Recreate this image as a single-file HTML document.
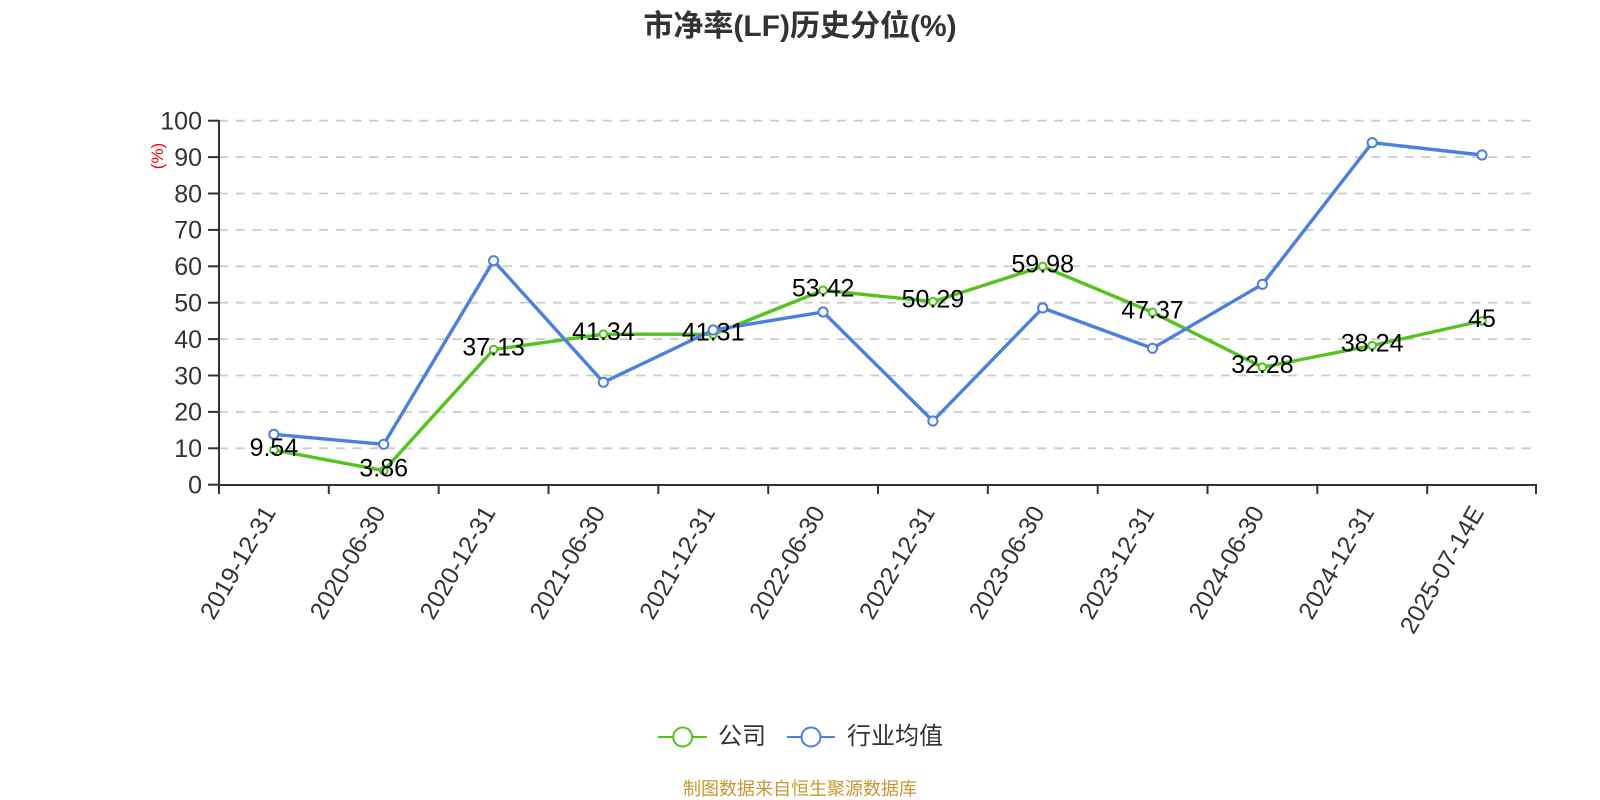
<!DOCTYPE html>
<html>
<head>
<meta charset="utf-8">
<style>
html,body{margin:0;padding:0;background:#fff;}
svg{display:block;}
text{font-family:"Liberation Sans","Noto Sans CJK SC",sans-serif;}
</style>
</head>
<body>
<svg width="1600" height="800" viewBox="0 0 1600 800" xmlns="http://www.w3.org/2000/svg">
<rect width="1600" height="800" fill="#fff"/>
<!-- title -->
<text x="800" y="36" text-anchor="middle" font-size="30" font-weight="bold" fill="#333">市净率(LF)历史分位(%)</text>

<!-- grid lines -->
<g stroke="#cccccc" stroke-width="1.8" stroke-dasharray="9 7.7" fill="none">
<line x1="219" y1="120.7" x2="1537" y2="120.7"/>
<line x1="219" y1="157.1" x2="1537" y2="157.1"/>
<line x1="219" y1="193.5" x2="1537" y2="193.5"/>
<line x1="219" y1="229.9" x2="1537" y2="229.9"/>
<line x1="219" y1="266.3" x2="1537" y2="266.3"/>
<line x1="219" y1="302.7" x2="1537" y2="302.7"/>
<line x1="219" y1="339.1" x2="1537" y2="339.1"/>
<line x1="219" y1="375.5" x2="1537" y2="375.5"/>
<line x1="219" y1="411.9" x2="1537" y2="411.9"/>
<line x1="219" y1="448.3" x2="1537" y2="448.3"/>
</g>

<!-- axes -->
<g stroke="#333" stroke-width="2" fill="none">
<line x1="219" y1="120" x2="219" y2="485"/>
<line x1="218" y1="485" x2="1537" y2="485"/>
<line x1="208" y1="120.7" x2="219" y2="120.7"/>
<line x1="208" y1="157.1" x2="219" y2="157.1"/>
<line x1="208" y1="193.5" x2="219" y2="193.5"/>
<line x1="208" y1="229.9" x2="219" y2="229.9"/>
<line x1="208" y1="266.3" x2="219" y2="266.3"/>
<line x1="208" y1="302.7" x2="219" y2="302.7"/>
<line x1="208" y1="339.1" x2="219" y2="339.1"/>
<line x1="208" y1="375.5" x2="219" y2="375.5"/>
<line x1="208" y1="411.9" x2="219" y2="411.9"/>
<line x1="208" y1="448.3" x2="219" y2="448.3"/>
<line x1="208" y1="484.7" x2="219" y2="484.7"/>
<line x1="219" y1="485" x2="219" y2="494"/>
<line x1="328.8" y1="485" x2="328.8" y2="494"/>
<line x1="438.7" y1="485" x2="438.7" y2="494"/>
<line x1="548.5" y1="485" x2="548.5" y2="494"/>
<line x1="658.3" y1="485" x2="658.3" y2="494"/>
<line x1="768.2" y1="485" x2="768.2" y2="494"/>
<line x1="878" y1="485" x2="878" y2="494"/>
<line x1="987.8" y1="485" x2="987.8" y2="494"/>
<line x1="1097.7" y1="485" x2="1097.7" y2="494"/>
<line x1="1207.5" y1="485" x2="1207.5" y2="494"/>
<line x1="1317.3" y1="485" x2="1317.3" y2="494"/>
<line x1="1427.2" y1="485" x2="1427.2" y2="494"/>
<line x1="1536" y1="485" x2="1536" y2="494"/>
</g>

<!-- y labels -->
<g font-size="25" fill="#333" text-anchor="end">
<text x="202" y="129.5">100</text>
<text x="202" y="165.9">90</text>
<text x="202" y="202.3">80</text>
<text x="202" y="238.7">70</text>
<text x="202" y="275.1">60</text>
<text x="202" y="311.5">50</text>
<text x="202" y="347.9">40</text>
<text x="202" y="384.3">30</text>
<text x="202" y="420.7">20</text>
<text x="202" y="457.1">10</text>
<text x="202" y="493.5">0</text>
</g>
<text transform="translate(163,156) rotate(-90)" text-anchor="middle" font-size="17" fill="#ff0000">(%)</text>

<!-- x labels -->
<g font-size="24.6" fill="#333" text-anchor="end">
<text transform="translate(276.5,512.2) rotate(-60)">2019-12-31</text>
<text transform="translate(386.3,512.2) rotate(-60)">2020-06-30</text>
<text transform="translate(496.2,512.2) rotate(-60)">2020-12-31</text>
<text transform="translate(606,512.2) rotate(-60)">2021-06-30</text>
<text transform="translate(715.8,512.2) rotate(-60)">2021-12-31</text>
<text transform="translate(825.7,512.2) rotate(-60)">2022-06-30</text>
<text transform="translate(935.5,512.2) rotate(-60)">2022-12-31</text>
<text transform="translate(1045.3,512.2) rotate(-60)">2023-06-30</text>
<text transform="translate(1155.1,512.2) rotate(-60)">2023-12-31</text>
<text transform="translate(1265,512.2) rotate(-60)">2024-06-30</text>
<text transform="translate(1374.8,512.2) rotate(-60)">2024-12-31</text>
<text transform="translate(1484.6,512.2) rotate(-60)">2025-07-14E</text>
</g>

<!-- green series (company) -->
<polyline fill="none" stroke="#52c41a" stroke-width="3.4" stroke-linejoin="round"
points="273.9,450.0 383.7,470.6 493.6,349.5 603.4,334.2 713.2,334.3 823.1,290.3 932.9,301.6 1042.7,266.4 1152.5,312.3 1262.4,367.2 1372.2,345.5 1482.0,320.9"/>
<g fill="#fff" stroke="#52c41a" stroke-width="2">
<circle cx="273.9" cy="450.0" r="3.8"/>
<circle cx="383.7" cy="470.6" r="3.8"/>
<circle cx="493.6" cy="349.5" r="3.8"/>
<circle cx="603.4" cy="334.2" r="3.8"/>
<circle cx="713.2" cy="334.3" r="3.8"/>
<circle cx="823.1" cy="290.3" r="3.8"/>
<circle cx="932.9" cy="301.6" r="3.8"/>
<circle cx="1042.7" cy="266.4" r="3.8"/>
<circle cx="1152.5" cy="312.3" r="3.8"/>
<circle cx="1262.4" cy="367.2" r="3.8"/>
<circle cx="1372.2" cy="345.5" r="3.8"/>
<circle cx="1482.0" cy="320.9" r="3.8"/>
</g>

<!-- blue series (industry avg) -->
<polyline fill="none" stroke="#4a80e2" stroke-width="3.4" stroke-linejoin="round"
points="273.9,434.3 383.7,444.3 493.6,260.7 603.4,382.3 713.2,330 823.1,312 932.9,421 1042.7,308 1152.5,348.3 1262.4,284.3 1372.2,142.7 1482.0,155"/>
<g fill="#fff" stroke="#4a80e2" stroke-width="2">
<circle cx="273.9" cy="434.3" r="4.6"/>
<circle cx="383.7" cy="444.3" r="4.6"/>
<circle cx="493.6" cy="260.7" r="4.6"/>
<circle cx="603.4" cy="382.3" r="4.6"/>
<circle cx="713.2" cy="330" r="4.6"/>
<circle cx="823.1" cy="312" r="4.6"/>
<circle cx="932.9" cy="421" r="4.6"/>
<circle cx="1042.7" cy="308" r="4.6"/>
<circle cx="1152.5" cy="348.3" r="4.6"/>
<circle cx="1262.4" cy="284.3" r="4.6"/>
<circle cx="1372.2" cy="142.7" r="4.6"/>
<circle cx="1482.0" cy="155" r="4.6"/>
</g>

<!-- data labels -->
<g font-size="25" fill="#000" text-anchor="middle">
<text x="273.9" y="456">9.54</text>
<text x="383.7" y="476.6">3.86</text>
<text x="493.6" y="355.5">37.13</text>
<text x="603.4" y="340.2">41.34</text>
<text x="713.2" y="340.3">41.31</text>
<text x="823.1" y="296.3">53.42</text>
<text x="932.9" y="307.6">50.29</text>
<text x="1042.7" y="272.4">59.98</text>
<text x="1152.5" y="318.3">47.37</text>
<text x="1262.4" y="373.2">32.28</text>
<text x="1372.2" y="351.5">38.24</text>
<text x="1482" y="326.9">45</text>
</g>

<!-- legend -->
<line x1="658" y1="737" x2="707" y2="737" stroke="#52c41a" stroke-width="2"/>
<circle cx="682.7" cy="737" r="9.5" fill="#fff" stroke="#52c41a" stroke-width="2"/>
<text x="718" y="744" font-size="24" fill="#333">公司</text>
<line x1="787" y1="737" x2="835" y2="737" stroke="#4a80e2" stroke-width="2"/>
<circle cx="811" cy="737" r="9.5" fill="#fff" stroke="#4a80e2" stroke-width="2"/>
<text x="847" y="744" font-size="24" fill="#333">行业均值</text>

<!-- footer -->
<text x="800" y="795" text-anchor="middle" font-size="18" fill="#c8982f">制图数据来自恒生聚源数据库</text>
</svg>
</body>
</html>
